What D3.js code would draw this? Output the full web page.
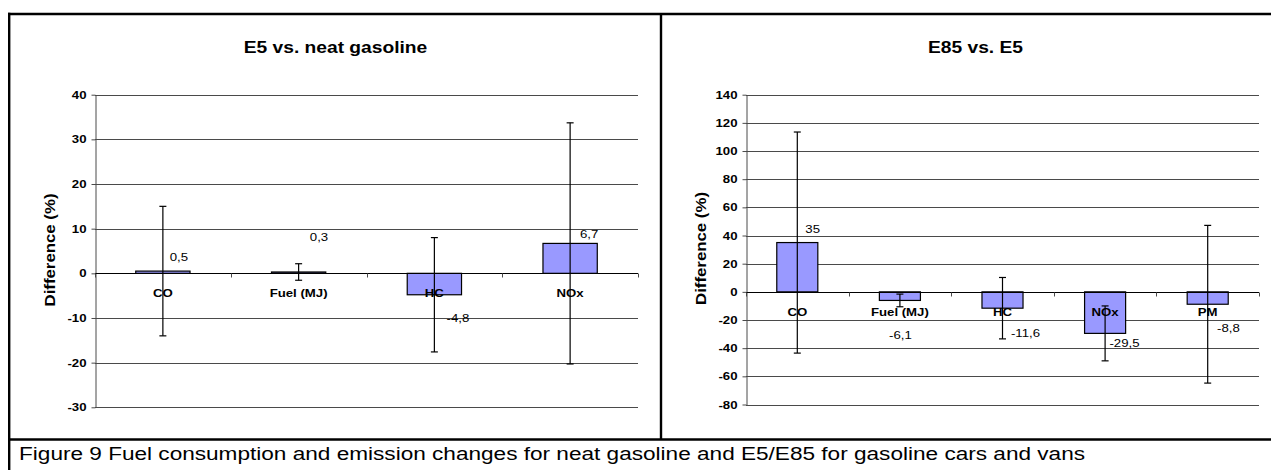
<!DOCTYPE html>
<html>
<head>
<meta charset="utf-8">
<script src="https://cdn.jsdelivr.net/npm/d3@7"></script>
<style>
  html, body { margin: 0; padding: 0; background: #fff; }
  svg { display: block; }
  text { font-family: Arial, "Liberation Sans", sans-serif; fill: #000; }
</style>
</head>
<body>
<svg id="chart" width="1271" height="470"></svg>
<script>
// ---- data ----
const e5Title = "E5 vs. neat gasoline";
const e5Categories = ["CO", "Fuel (MJ)", "HC", "NOx"];
const e5Values = [0.5, 0.3, -4.8, 6.7];
const e5Errors = [14.5, 1.85, 12.8, 27];
const e5Ticks = [-30, -20, -10, 0, 10, 20, 30, 40];

const e85Title = "E85 vs. E5";
const e85Categories = ["CO", "Fuel (MJ)", "HC", "NOx", "PM"];
const e85Values = [35, -6.1, -11.6, -29.5, -8.8];
const e85Errors = [78.5, 4.5, 21.8, 19.5, 56];
const e85Ticks = [-80, -60, -40, -20, 0, 20, 40, 60, 80, 100, 120, 140];

const yTitle = "Difference (%)";
const caption = "Figure 9 Fuel consumption and emission changes for neat gasoline and E5/E85 for gasoline cars and vans";

// ---- layout ----
const STRETCH = 1.2;
const svg = d3.select("#chart");

function stretch(sel, factor) {
  sel.each(function () {
    const len = this.getComputedTextLength();
    if (len > 0) {
      d3.select(this).attr("textLength", len * factor).attr("lengthAdjust", "spacingAndGlyphs");
    }
  });
}

const fmt = v => String(v).replace(".", ",");

const panels = [
  {
    title: e5Title, cats: e5Categories, vals: e5Values, errs: e5Errors, ticks: e5Ticks,
    x0: 95, x1: 638, yTop: 94.7, yBot: 407.3,
    titleX: 335.5, yTitleX: 54.5, yTitleY: 250,
    nudges: [[16, -14.4], [20.4, -35], [23.6, 23.3], [19, -9]]
  },
  {
    title: e85Title, cats: e85Categories, vals: e85Values, errs: e85Errors, ticks: e85Ticks,
    x0: 746, x1: 1259, yTop: 94.7, yBot: 404.5,
    titleX: 975.5, yTitleX: 705.5, yTitleY: 248.5,
    nudges: [[15.4, -13.2], [0.6, 34.7], [23, 24.7], [19.4, 10.1], [20.8, 23.6]]
  }
];

panels.forEach(p => {
  const g = svg.append("g");
  const x = d3.scaleBand().domain(p.cats).range([p.x0, p.x1]).paddingInner(0).paddingOuter(0);
  const y = d3.scaleLinear().domain([d3.min(p.ticks), d3.max(p.ticks)]).range([p.yBot, p.yTop]);
  const barW = x.bandwidth() / 2.5;

  // title
  g.append("text").attr("x", p.titleX).attr("y", 53.3)
    .attr("text-anchor", "middle").attr("font-size", 16).attr("font-weight", "bold")
    .text(p.title).call(stretch, STRETCH);

  // y title
  g.append("text")
    .attr("transform", `translate(${p.yTitleX},${p.yTitleY}) rotate(-90)`)
    .attr("text-anchor", "middle").attr("font-size", 15).attr("font-weight", "bold")
    .attr("textLength", 113).attr("lengthAdjust", "spacingAndGlyphs")
    .text(yTitle);

  // gridlines
  g.append("g").selectAll("line").data(p.ticks.filter(t => t !== 0)).join("line")
    .attr("x1", p.x0).attr("x2", p.x1)
    .attr("y1", d => Math.round(y(d)) + 0.5).attr("y2", d => Math.round(y(d)) + 0.5)
    .attr("stroke", "#4a4a4a").attr("stroke-width", 1);

  // y axis
  const ya = g.append("g").attr("transform", `translate(${p.x0 + 0.5},0)`)
    .call(d3.axisLeft(y).tickValues(p.ticks).tickFormat(d => String(d))
      .tickSize(4).tickPadding(5).tickSizeOuter(0));
  ya.select(".domain").attr("stroke", "#4a4a4a");
  ya.selectAll(".tick line").attr("stroke", "#4a4a4a");
  ya.selectAll("text").attr("font-size", 11).attr("font-weight", "bold")
    .attr("font-family", "Arial, 'Liberation Sans', sans-serif").attr("fill", "#000");
  ya.selectAll(".tick text").call(stretch, STRETCH);

  // bars
  g.append("g").selectAll("rect").data(p.vals).join("rect")
    .attr("x", (d, i) => x(p.cats[i]) + (x.bandwidth() - barW) / 2)
    .attr("y", d => y(Math.max(0, d)))
    .attr("width", barW)
    .attr("height", d => Math.abs(y(d) - y(0)))
    .attr("fill", "#9999ff").attr("stroke", "#000").attr("stroke-width", 1.2);

  // x axis line at zero
  const y0 = Math.round(y(0)) + 0.5;
  g.append("line").attr("x1", p.x0).attr("x2", p.x1).attr("y1", y0).attr("y2", y0)
    .attr("stroke", "#000").attr("stroke-width", 1);
  const bounds = p.cats.map(c => x(c)).concat([x.range()[1]]);
  g.append("g").selectAll("line").data(bounds).join("line")
    .attr("x1", d => Math.round(d) + 0.5).attr("x2", d => Math.round(d) + 0.5)
    .attr("y1", y0).attr("y2", y0 + 4)
    .attr("stroke", "#4a4a4a");

  // error bars
  const eg = g.append("g").attr("stroke", "#000").attr("stroke-width", 1.2);
  p.vals.forEach((v, i) => {
    const cx = x(p.cats[i]) + x.bandwidth() / 2;
    const top = y(v + p.errs[i]), bot = y(v - p.errs[i]);
    eg.append("line").attr("x1", cx).attr("x2", cx).attr("y1", top).attr("y2", bot);
    eg.append("line").attr("x1", cx - 3.5).attr("x2", cx + 3.5).attr("y1", top).attr("y2", top);
    eg.append("line").attr("x1", cx - 3.5).attr("x2", cx + 3.5).attr("y1", bot).attr("y2", bot);
  });

  // category labels
  g.append("g").selectAll("text").data(p.cats).join("text")
    .attr("x", d => x(d) + x.bandwidth() / 2)
    .attr("y", y(0) + 20)
    .attr("dy", "0.35em")
    .attr("text-anchor", "middle").attr("font-size", 11).attr("font-weight", "bold")
    .text(d => d).call(stretch, STRETCH);

  // data labels
  g.append("g").selectAll("text").data(p.vals).join("text")
    .attr("x", (d, i) => x(p.cats[i]) + x.bandwidth() / 2 + p.nudges[i][0])
    .attr("y", (d, i) => y(d) + p.nudges[i][1])
    .attr("dy", "0.35em")
    .attr("text-anchor", "middle").attr("font-size", 11)
    .text(d => fmt(d)).call(stretch, STRETCH);
});

// ---- frame ----
const frame = svg.append("g").attr("stroke", "#000").attr("stroke-width", 2.4).attr("fill", "none");
frame.append("line").attr("x1", 8).attr("x2", 1271).attr("y1", 14).attr("y2", 14);
frame.append("line").attr("x1", 9.2).attr("x2", 9.2).attr("y1", 12.8).attr("y2", 470);
frame.append("line").attr("x1", 661).attr("x2", 661).attr("y1", 14).attr("y2", 439.5);
frame.append("line").attr("x1", 8).attr("x2", 1271).attr("y1", 439.5).attr("y2", 439.5);

// caption
svg.append("text").attr("x", 19).attr("y", 459.5)
  .attr("font-size", 17.5)
  .attr("textLength", 1066).attr("lengthAdjust", "spacingAndGlyphs")
  .text(caption);
</script>
</body>
</html>
